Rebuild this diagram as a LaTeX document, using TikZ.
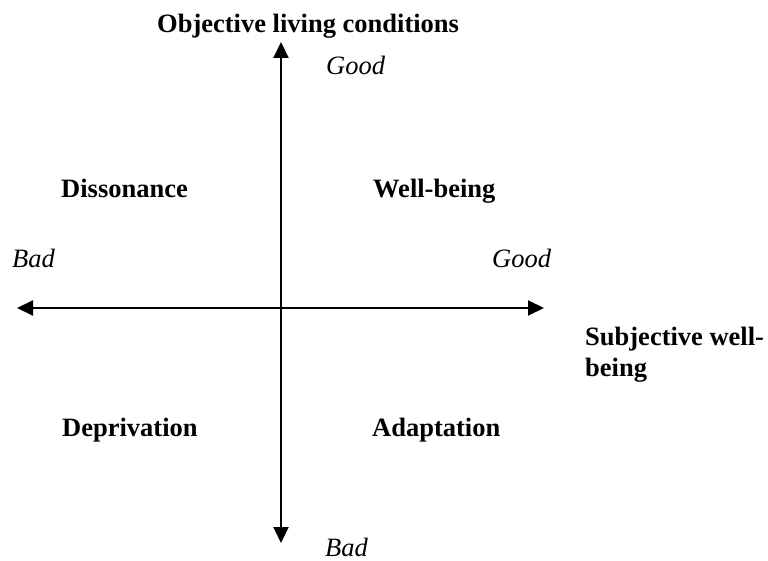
\documentclass[tikz,border=0pt]{standalone}
\usepackage{fontspec}
\setmainfont{Liberation Serif}
\usepackage{tikz}
\usetikzlibrary{arrows.meta}

\tikzset{
  axis/.style={line width=2pt, {Triangle[length=16pt,width=15pt]}-{Triangle[length=16pt,width=15pt]}},
  lbl/.style={inner sep=0pt, anchor=base west, font=\fontsize{26.5}{31}\selectfont\bfseries},
  endlbl/.style={inner sep=0pt, anchor=base west, font=\fontsize{26.5}{31}\selectfont\itshape}
}

\begin{document}
\begin{tikzpicture}[x=1pt,y=-1pt]

\useasboundingbox (0,0) rectangle (768,561);

% Axes end points
\coordinate (top) at (281,42);
\coordinate (bottom) at (281,543);
\coordinate (left) at (17,308);
\coordinate (right) at (544,308);

% Axes
\draw[axis] (bottom) -- (top);
\draw[axis] (left) -- (right);

% Axis titles (two-line node: base is on the last line)
\node[lbl] (objective) at (157,33) {Objective living conditions};
\node[lbl, align=left] (subjective) at (585,376) {Subjective well-\\being};

% Good / Bad ends
\node[endlbl] (vgood) at (326,75) {Good};
\node[endlbl] (vbad) at (325,556) {Bad};
\node[endlbl] (hbad) at (12,268) {Bad};
\node[endlbl] (hgood) at (492,268) {Good};

% Quadrants
\node[lbl] (dissonance) at (61,198) {Dissonance};
\node[lbl] (wellbeing) at (373,198) {Well-being};
\node[lbl] (deprivation) at (62,436) {Deprivation};
\node[lbl] (adaptation) at (372,436) {Adaptation};

\end{tikzpicture}
\end{document}
